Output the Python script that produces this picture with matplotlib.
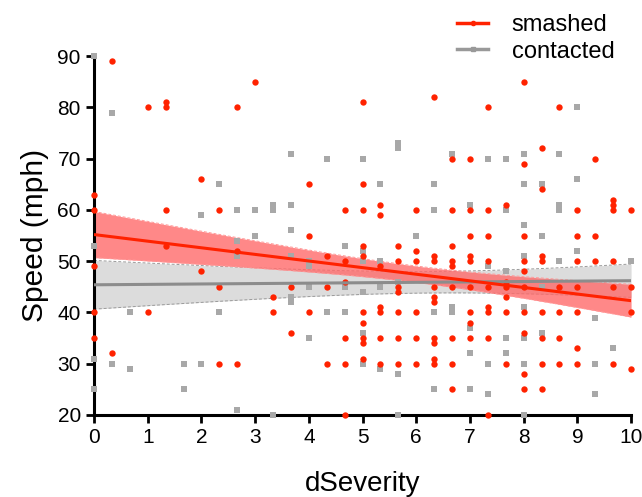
import numpy as np
import matplotlib as mpl
import matplotlib.pyplot as plt

mpl.use('agg')

plt.rcParams['font.family'] = ['Liberation Sans', 'DejaVu Sans']

# smashed: dSeverity -> list of speeds (mph)
smashed = {
    0: [63, 60, 49, 40, 35],
    0.333: [89, 32],
    1: [80, 40],
    1.333: [81, 80, 60, 53],
    2: [66, 48],
    2.333: [60, 45, 30],
    2.667: [80, 52, 30],
    3: [85],
    3.333: [43, 40],
    3.667: [45, 36],
    4: [65, 55, 40],
    4.333: [51, 45, 30],
    4.667: [60, 50, 46, 35, 30, 20],
    5: [81, 65, 60, 53, 51, 40, 38, 35, 34, 31],
    5.333: [61, 59, 49, 41, 40, 35, 30],
    5.667: [53, 50, 45, 44, 40, 35, 30],
    6: [60, 52, 50, 40, 35, 30],
    6.333: [82, 51, 50, 45, 43, 42, 35, 34, 31, 30],
    6.667: [70, 60, 53, 50, 49, 45, 35, 30, 25],
    7: [70, 60, 55, 51, 50, 45, 40, 38, 35],
    7.333: [80, 60, 55, 50, 45, 41, 40, 35, 20],
    7.667: [61, 46, 45, 43, 40, 30],
    8: [85, 69, 55, 50, 48, 45, 40, 36, 28, 25],
    8.333: [72, 64, 51, 50, 40, 35, 30, 25],
    8.667: [80, 45, 40, 35, 30],
    9: [60, 55, 50, 45, 40, 33, 30],
    9.333: [70, 55, 50],
    9.667: [62, 61, 60, 50, 45, 30],
    10: [60, 45, 40, 29],
}

# contacted: dSeverity -> list of speeds (mph)
contacted = {
    0: [90, 53, 31, 25],
    0.333: [79, 30],
    0.667: [40, 29],
    1.667: [30, 25],
    2: [59, 30],
    2.333: [65, 40],
    2.667: [60, 54, 51, 21],
    3: [60, 55],
    3.333: [61, 60, 20],
    3.667: [71, 61, 56, 51, 43, 42],
    4: [50, 49, 45, 35],
    4.333: [70, 40],
    4.667: [53, 45, 40],
    5: [70, 52, 50, 44, 36, 30],
    5.333: [65, 50, 45, 29],
    5.667: [73, 72, 46, 28, 20],
    6: [55],
    6.333: [65, 60, 40, 25],
    6.667: [71, 41, 40],
    7: [61, 37, 32, 25],
    7.333: [70, 49, 30, 24],
    7.667: [70, 60, 48, 35, 32],
    8: [71, 65, 57, 51, 41, 35, 30, 20],
    8.333: [65, 55, 45, 36],
    8.667: [71, 61, 60, 50],
    9: [80, 66, 52],
    9.333: [39, 30, 24],
    9.667: [33],
    10: [50],
}

# regression lines: [value at x=0, value at x=10]
smashed_fit = [55.2, 42.3]
contacted_fit = [45.4, 46.2]
# 95% CI half-widths: [at x=0, narrowest, at x=10]
smashed_ci = [4.5, 1.6, 3.2]
contacted_ci = [4.75, 2.1, 3.25]


def flatten(d):
    xs, ys = [], []
    for k, vals in d.items():
        for v in vals:
            xs.append(k)
            ys.append(v)
    return np.array(xs), np.array(ys, dtype=float)


def band(fit, ci, xg):
    # straight fit line with the usual hyperbolic confidence band
    yg = fit[0] + (fit[1] - fit[0]) * xg / 10.0
    w0, wm, w10 = ci
    a = wm ** 2
    r = np.sqrt((w0 ** 2 - a) / (w10 ** 2 - a))
    m = 10.0 * r / (1 + r)
    b = (w0 ** 2 - a) / m ** 2
    w = np.sqrt(a + b * (xg - m) ** 2)
    return yg, yg - w, yg + w


sx, sy = flatten(smashed)
cx, cy = flatten(contacted)
xg = np.linspace(0, 10, 200)

red = '#ff2200'
gray = '#999999'

fig = plt.figure(figsize=(6.42, 4.97), dpi=100)
ax = fig.add_axes([0.1464, 0.165, 0.8366, 0.722])

# contacted band
cyg, clo, chi = band(contacted_fit, contacted_ci, xg)
ax.fill_between(xg, clo, chi, color='#dcdcdc', lw=0, zorder=1)
ax.plot(xg, clo, color='#9a9a9a', lw=0.7, ls=(0, (3, 2)), zorder=1.5)
ax.plot(xg, chi, color='#9a9a9a', lw=0.7, ls=(0, (3, 2)), zorder=1.5)

# smashed band
syg, slo, shi = band(smashed_fit, smashed_ci, xg)
ax.fill_between(xg, slo, shi, color='#ff6a6a', alpha=0.8, lw=0, zorder=2)
ax.plot(xg, slo, color='#ff9a9a', lw=0.7, ls=(0, (3, 2)), zorder=2.5)
ax.plot(xg, shi, color='#ff9a9a', lw=0.7, ls=(0, (3, 2)), zorder=2.5)

ax.scatter(cx, cy, marker='s', s=18, color='#a8a8a8', lw=0, zorder=3, clip_on=False)
ax.scatter(sx, sy, marker='o', s=21, color=red, lw=0, zorder=4, clip_on=False)

ax.plot(xg, cyg, color='#8c8c8c', lw=2.2, zorder=5, solid_capstyle='butt')
ax.plot(xg, syg, color=red, lw=2.2, zorder=6, solid_capstyle='butt')

ax.set_xlim(0, 10)
ax.set_ylim(20, 90)
ax.set_xticks(range(0, 11))
ax.set_yticks(range(20, 91, 10))
for side in ['top', 'right']:
    ax.spines[side].set_visible(False)
for side in ['left', 'bottom']:
    ax.spines[side].set_linewidth(2.2)
ax.tick_params(width=2, length=6, labelsize=15, direction='out')
ax.set_xlabel('dSeverity', fontsize=20, labelpad=17)
ax.set_ylabel('Speed (mph)', fontsize=21.5, labelpad=6)

h1, = ax.plot([], [], color=red, lw=2.5, marker='o', ms=3)
h2, = ax.plot([], [], color=gray, lw=2.5, marker='s', ms=3)
fig.legend([h1, h2], ['smashed', 'contacted'], loc='upper right',
           bbox_to_anchor=(0.99, 1.015), frameon=False, fontsize=17,
           handlelength=1.3, handletextpad=1.0, labelspacing=0.2)

fig.savefig('out.png')
